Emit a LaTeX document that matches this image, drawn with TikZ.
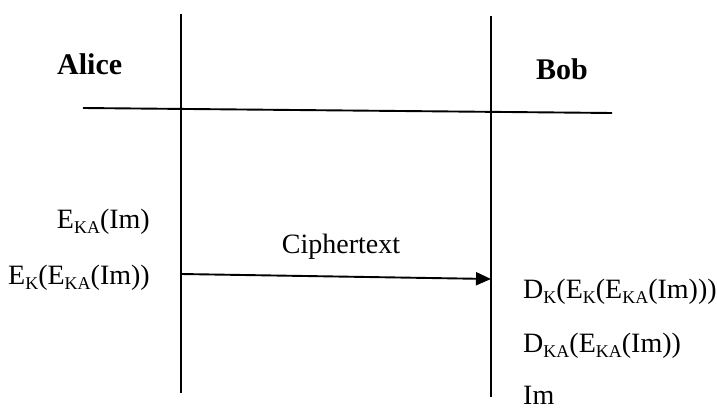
\documentclass[tikz,border=0pt]{standalone}
\usepackage{fontspec}
\setmainfont{Liberation Serif}
\usetikzlibrary{arrows.meta}
\newcommand\subs[1]{\raisebox{-5pt}{\fontsize{18}{18}\selectfont #1}}
\begin{document}
\begin{tikzpicture}[x=1pt,y=-1pt,
  lbl/.style={inner sep=0pt,font=\fontsize{28}{30}\selectfont},
  who/.style={inner sep=0pt,font=\fontsize{30}{32}\selectfont\bfseries},
  life/.style={line width=1.9pt},
  msg/.style={line width=1.9pt,-{Triangle[length=15pt,width=13pt]}}]
\useasboundingbox (0,0) rectangle (717,409);
% lifelines and header rule
\coordinate (aTop) at (181,14);
\coordinate (aBot) at (181,393);
\coordinate (bTop) at (491,16);
\coordinate (bBot) at (491,397);
\coordinate (hL) at (83,108);
\coordinate (hR) at (612,113);
\draw[life] (aTop) -- (aBot);
\draw[life] (bTop) -- (bBot);
\draw[life] (hL) -- (hR);
% names
\node[who,anchor=base west] (alice) at (57,75) {Alice};
\node[who,anchor=base west] (bob) at (536,80) {Bob};
% Alice side
\node[lbl,anchor=base east] (e1) at (150,228) {E\subs{KA}(Im)};
\node[lbl,anchor=base east] (e2) at (150,284) {E\subs{K}(E\subs{KA}(Im))};
% message
\coordinate (mS) at (181,274);
\coordinate (mE) at (491,279);
\draw[msg] (mS) -- (mE);
\node[lbl,anchor=base] (ct) at (341,253) {Ciphertext};
% Bob side
\node[lbl,anchor=base west] (d1) at (523,298) {D\subs{K}(E\subs{K}(E\subs{KA}(Im)))};
\node[lbl,anchor=base west] (d2) at (523,352) {D\subs{KA}(E\subs{KA}(Im))};
\node[lbl,anchor=base west] (im) at (523,404) {Im};
\end{tikzpicture}
\end{document}
